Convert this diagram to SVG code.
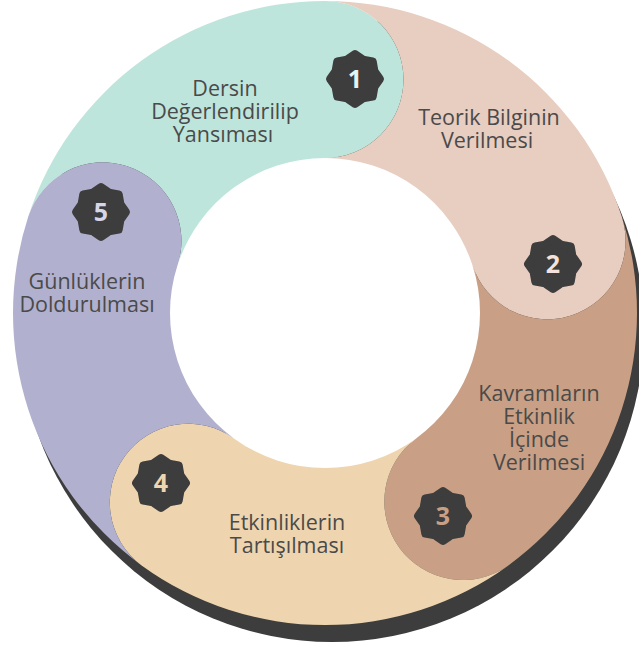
<svg xmlns="http://www.w3.org/2000/svg" xmlns:xlink="http://www.w3.org/1999/xlink" width="639" height="650" viewBox="0 0 639 650">
  <style>
    .label { font-family: "Open Sans", "Noto Sans", "DejaVu Sans", sans-serif; font-size: 21.5px; fill: #4a4a4a; text-anchor: middle; }
    .num { font-family: "Open Sans", "Liberation Sans", sans-serif; font-size: 25px; font-weight: 700; text-anchor: middle; }
    .seal { fill: #3d3d3d; stroke: #3d3d3d; stroke-width: 8; stroke-linejoin: round; }
  </style>
  <defs>
    <!-- eight-pointed scalloped badge, centred on the origin -->
    <polygon id="seal" class="seal" points="0,-25 8.04,-19.4 17.68,-17.68 19.4,-8.04 25,0 19.4,8.04 17.68,17.68 8.04,19.4 0,25 -8.04,19.4 -17.68,17.68 -19.4,8.04 -25,0 -19.4,-8.04 -17.68,-17.68 -8.04,-19.4"/>
  </defs>

  <!-- drop shadow of the ring, with the hole kept white -->
  <circle cx="332" cy="330" r="312" fill="#3d3d3d"/>
  <circle cx="325" cy="313" r="156" fill="#ffffff"/>

  <!-- 1: top segment, rounded cap at the top -->
  <g id="step1">
    <path fill="#bee5dc" d="M 28.27 216.59 A 312 312 0 0 1 325 1 A 78.5 78.5 0 0 1 325 158 A 155 155 0 0 0 177.59 265.1 A 78.5 78.5 0 0 0 28.27 216.59 Z"/>
    <use xlink:href="#seal" href="#seal" x="355" y="79"/>
    <text class="num" x="355" y="88" fill="#e4f4f0">1</text>
    <text class="label" x="225" y="96">Dersin</text>
    <text class="label" x="225" y="119">Değerlendirilip</text>
    <text class="label" x="223" y="142">Yansıması</text>
  </g>

  <!-- 2 -->
  <g id="step2">
    <path fill="#e8cdc1" d="M 325 1 A 312 312 0 0 1 621.73 216.59 A 78.5 78.5 0 0 1 472.41 265.1 A 155 155 0 0 0 325 158 A 78.5 78.5 0 0 0 325 1 Z"/>
    <use xlink:href="#seal" href="#seal" x="553" y="264"/>
    <text class="num" x="553" y="273" fill="#f3e3dc">2</text>
    <text class="label" x="489" y="125">Teorik Bilginin</text>
    <text class="label" x="487" y="148">Verilmesi</text>
  </g>

  <!-- 3 -->
  <g id="step3">
    <path fill="#c9a085" d="M 621.73 216.59 A 312 312 0 0 1 508.39 565.41 A 78.5 78.5 0 0 1 416.11 438.4 A 155 155 0 0 0 472.41 265.1 A 78.5 78.5 0 0 0 621.73 216.59 Z"/>
    <use xlink:href="#seal" href="#seal" x="443" y="516"/>
    <text class="num" x="443" y="525" fill="#c9a085">3</text>
    <text class="label" x="539" y="401">Kavramların</text>
    <text class="label" x="539" y="424">Etkinlik</text>
    <text class="label" x="539" y="447">İçinde</text>
    <text class="label" x="539" y="470">Verilmesi</text>
  </g>

  <!-- 4 -->
  <g id="step4">
    <path fill="#efd5af" d="M 508.39 565.41 A 312 312 0 0 1 141.61 565.41 A 78.5 78.5 0 0 1 233.89 438.4 A 155 155 0 0 0 416.11 438.4 A 78.5 78.5 0 0 0 508.39 565.41 Z"/>
    <use xlink:href="#seal" href="#seal" x="161" y="483"/>
    <text class="num" x="161" y="492" fill="#efd5af">4</text>
    <text class="label" x="287" y="530">Etkinliklerin</text>
    <text class="label" x="287" y="553">Tartışılması</text>
  </g>

  <!-- 5 -->
  <g id="step5">
    <path fill="#b1b1cf" d="M 141.61 565.41 A 312 312 0 0 1 28.27 216.59 A 78.5 78.5 0 0 1 177.59 265.1 A 155 155 0 0 0 233.89 438.4 A 78.5 78.5 0 0 0 141.61 565.41 Z"/>
    <use xlink:href="#seal" href="#seal" x="101" y="212"/>
    <text class="num" x="101" y="221" fill="#d6d6e8">5</text>
    <text class="label" x="87" y="289">Günlüklerin</text>
    <text class="label" x="87" y="312">Doldurulması</text>
  </g>

  <!-- the cycle has no separate connector lines -->
  <g id="connectors"/>
</svg>
